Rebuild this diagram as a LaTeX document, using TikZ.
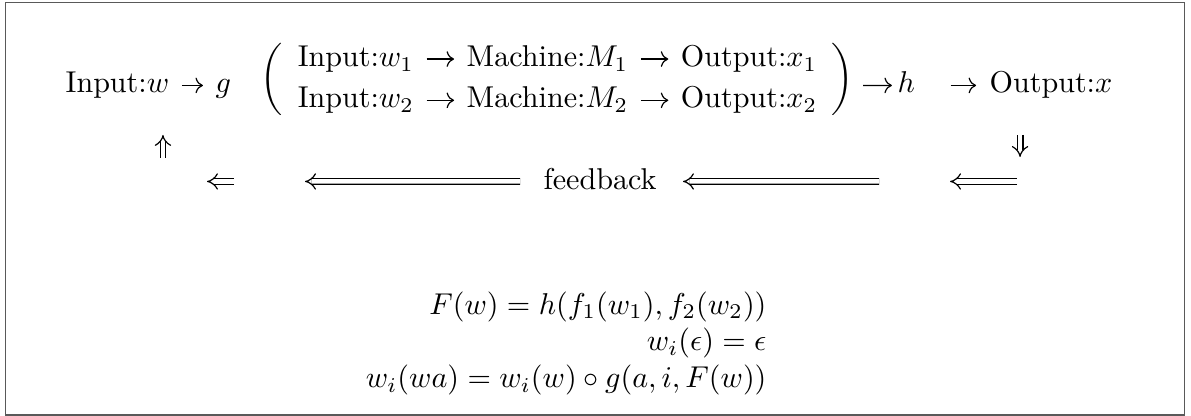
\documentclass[tikz,border=0pt]{standalone}
\usepackage{amsmath}
\usepackage{amssymb}
\usepackage{tikz}
\usetikzlibrary{matrix,arrows.meta}

\tikzset{
  txt/.style={inner sep=0pt, text height=7pt, text depth=2pt},
  arr/.style={->, shorten <=4pt, shorten >=4pt},
  darr/.style={double, double distance=1.5pt, -Implies},
}

\begin{document}
\begin{tikzpicture}
\useasboundingbox (0,0) rectangle (13.9,4.855);
\draw [black!65](0.06,0.012) rectangle (13.82,4.83);
\node [txt, anchor=base west] (inw) at (0.759,3.77) {Input:$w$};
\node [txt, anchor=base west] (g) at (2.509,3.77) {$g$};
\matrix (m) [matrix of nodes, nodes={txt, anchor=west}, column sep=17.5pt, row sep=4.7pt,
  inner xsep=3.5pt, inner ysep=1.7pt, left delimiter=(, right delimiter=),
  every delimiter/.style={transform shape, yscale=1.35, yshift=-1pt},
  anchor=west] at (3.345,3.925) {
  Input:$w_1$ & Machine:$M_1$ & Output:$x_1$ \\
  Input:$w_2$ & Machine:$M_2$ & Output:$x_2$ \\
};
\node [txt, anchor=base west] (h) at (10.469,3.77) {$h$};
\node [txt, anchor=base west] (out) at (11.543,3.77) {Output:$x$};
\coordinate (mr) at (10.072,3.858);
\draw [arr] (inw) -- (g);
\draw [arr] (m-1-1) -- (m-1-2);
\draw [arr] (m-1-2) -- (m-1-3);
\draw [arr] (m-2-1) -- (m-2-2);
\draw [arr] (m-2-2) -- (m-2-3);
\draw [arr, shorten <=0pt, shorten >=1.7pt] (mr) -- (h);
\draw [arr, shorten <=11.6pt, shorten >=4.3pt] (h) -- (out);

\coordinate (u0) at (1.902,3.011);
\coordinate (u1) at (1.902,3.280);
\coordinate (d0) at (11.905,3.280);
\coordinate (d1) at (11.905,3.023);
\draw [darr] (u0) -- (u1);
\draw [darr] (d0) -- (d1);

\node [txt, anchor=base] (fb) at (7.003,2.649) {feedback};
\coordinate (l1a) at (2.731,2.737);
\coordinate (l1b) at (2.416,2.737);
\coordinate (l2) at (3.560,2.737);
\coordinate (l3) at (10.259,2.737);
\coordinate (l4a) at (11.870,2.737);
\coordinate (l4b) at (11.088,2.737);
\draw [darr] (l1a) -- (l1b);
\draw [darr, shorten <=7.6pt] (fb.west) -- (l2);
\draw [darr, shorten >=8.6pt] (l3) -- (fb.east);
\draw [darr] (l4a) -- (l4b);

\node [anchor=base east, inner sep=0pt] (eq1) at (8.952,1.190) {$F(w) = h(f_1(w_1), f_2(w_2))$};
\node [anchor=base east, inner sep=0pt] (eq2) at (8.952,0.759) {$w_i(\epsilon) = \epsilon$};
\node [anchor=base east, inner sep=0pt] (eq3) at (8.952,0.327) {$w_i(wa) = w_i(w) \circ g(a, i, F(w))$};
\end{tikzpicture}
\end{document}
